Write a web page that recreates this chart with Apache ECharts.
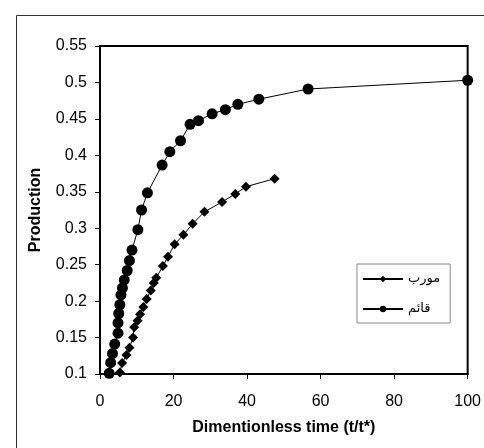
<!DOCTYPE html>
<html>
<head>
<meta charset="utf-8">
<script src="https://cdn.jsdelivr.net/npm/echarts@6/dist/echarts.min.js"></script>
<style>html,body{margin:0;padding:0;background:#fff}#c{width:484px;height:448px}</style>
</head>
<body>
<div id="c"></div>
<script>
var diagonalName = 'مورب';
var verticalName = 'قائم';
var diagonalX = [5.4, 6.0, 7.2, 8.0, 9.0, 9.3, 10.2, 10.9, 11.8, 12.7, 13.8, 14.6, 15.3, 17.1, 18.5, 20.3, 22.7, 25.2, 28.4, 33.2, 36.8, 39.7, 47.5];
var diagonalY = [0.102, 0.115, 0.126, 0.136, 0.150, 0.164, 0.173, 0.182, 0.192, 0.203, 0.2145, 0.225, 0.232, 0.248, 0.261, 0.278, 0.291, 0.306, 0.3225, 0.336, 0.347, 0.357, 0.368];
var verticalX = [2.5, 2.9, 3.4, 4.0, 4.9, 4.9, 5.1, 5.4, 5.7, 6.1, 6.6, 7.4, 8.0, 8.7, 10.3, 11.3, 12.9, 16.9, 19.0, 21.9, 24.5, 26.8, 30.5, 34.1, 37.5, 43.2, 56.6, 100];
var verticalY = [0.101, 0.1155, 0.128, 0.141, 0.156, 0.170, 0.183, 0.195, 0.2085, 0.218, 0.229, 0.242, 0.2556, 0.270, 0.298, 0.325, 0.3486, 0.3867, 0.405, 0.420, 0.4425, 0.4475, 0.457, 0.4626, 0.470, 0.477, 0.491, 0.503];
var xTicks = {min: 0, max: 100, interval: 20};
var yTicks = {min: 0.1, max: 0.55, interval: 0.05};
var xTitle = 'Dimentionless time (t/t*)';
var yTitle = 'Production';

function pairs(xs, ys) { return xs.map(function (x, i) { return [x, ys[i]]; }); }

var chart = echarts.init(document.getElementById('c'), null, {renderer: 'canvas'});
var font = 'Liberation Sans, Arial, sans-serif';
chart.setOption({
  animation: false,
  backgroundColor: '#fff',
  textStyle: {fontFamily: font},
  graphic: [{
    type: 'rect', left: 14, top: 13, silent: true,
    shape: {x: 0, y: 0, width: 520, height: 480},
    style: {fill: 'none', stroke: '#333', lineWidth: 1}
  }],
  grid: {left: 100, top: 46, right: 12, bottom: 74, show: true, borderColor: '#000', borderWidth: 2, backgroundColor: 'transparent'},
  legend: {
    left: 357, top: 264, orient: 'vertical',
    borderColor: '#888', borderWidth: 1, padding: [8, 10, 7, 5], itemGap: 16,
    itemWidth: 40, itemHeight: 8,
    textStyle: {fontSize: 13, lineHeight: 14, color: '#000', fontFamily: 'DejaVu Sans, sans-serif'},
    data: [diagonalName, verticalName]
  },
  xAxis: {
    type: 'value', min: xTicks.min, max: xTicks.max, interval: xTicks.interval,
    name: xTitle, nameLocation: 'middle', nameGap: 46,
    nameTextStyle: {fontWeight: 'bold', fontSize: 16, color: '#000', fontFamily: font},
    axisLine: {lineStyle: {color: '#000', width: 2}},
    axisTick: {show: true, inside: false, length: 5, lineStyle: {color: '#000', width: 1}},
    axisLabel: {color: '#000', fontSize: 16, margin: 20, fontFamily: font},
    splitLine: {show: false}
  },
  yAxis: {
    type: 'value', min: yTicks.min, max: yTicks.max, interval: yTicks.interval,
    name: yTitle, nameLocation: 'middle', nameGap: 56, nameRotate: 90,
    nameTextStyle: {fontWeight: 'bold', fontSize: 16, color: '#000', fontFamily: font},
    axisLine: {show: true, lineStyle: {color: '#000', width: 2}},
    axisTick: {show: true, inside: false, length: 5, lineStyle: {color: '#000', width: 1}},
    axisLabel: {color: '#000', fontSize: 16, margin: 13, fontFamily: font},
    splitLine: {show: false}
  },
  series: [{
    name: diagonalName, type: 'line', data: pairs(diagonalX, diagonalY),
    symbol: 'diamond', symbolSize: 10, color: '#000',
    lineStyle: {color: '#000', width: 1}, itemStyle: {color: '#000'}
  }, {
    name: verticalName, type: 'line', data: pairs(verticalX, verticalY),
    symbol: 'circle', symbolSize: 11, color: '#000',
    lineStyle: {color: '#000', width: 1}, itemStyle: {color: '#000'}
  }]
});
</script>
</body>
</html>
